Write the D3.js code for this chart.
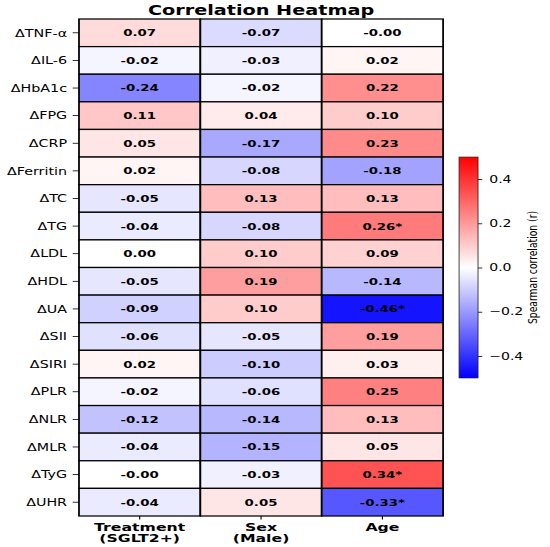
<!DOCTYPE html>
<html>
<head>
<meta charset="utf-8">
<script src="https://cdn.jsdelivr.net/npm/d3@7"></script>
<style>
  html, body { margin: 0; padding: 0; background: #ffffff; }
  svg { display: block; }
  text { font-family: "DejaVu Sans", sans-serif; fill: #000; }
</style>
</head>
<body>
<div id="chart"></div>
<script>
// ---- data ----
const rows = ["ΔTNF-α","ΔIL-6","ΔHbA1c","ΔFPG","ΔCRP","ΔFerritin","ΔTC","ΔTG","ΔLDL","ΔHDL","ΔUA","ΔSII","ΔSIRI","ΔPLR","ΔNLR","ΔMLR","ΔTyG","ΔUHR"];
const columns = ["Treatment\n(SGLT2+)", "Sex\n(Male)", "Age"];
const treatment = [0.07, -0.02, -0.24, 0.11, 0.05, 0.02, -0.05, -0.04, 0.00, -0.05, -0.09, -0.06, 0.02, -0.02, -0.12, -0.04, -0.0, -0.04];
const sex       = [-0.07, -0.03, -0.02, 0.04, -0.17, -0.08, 0.13, -0.08, 0.10, 0.19, 0.10, -0.05, -0.10, -0.06, -0.14, -0.15, -0.03, 0.05];
const age       = [-0.0, 0.02, 0.22, 0.10, 0.23, -0.18, 0.13, 0.26, 0.09, -0.14, -0.46, 0.19, 0.03, 0.25, 0.13, 0.05, 0.34, -0.33];
const ageSignificant = [false,false,false,false,false,false,false,true,false,false,true,false,false,false,false,false,true,true];
const colorbarTicks = [-0.4, -0.2, 0.0, 0.2, 0.4];
const title = "Correlation Heatmap";
const colorbarLabel = "Spearman correlation (r)";

// ---- layout (the picture is horizontally stretched; draw in a narrower viewBox) ----
const W = 550, H = 547, VBW = 392;
const svg = d3.select("#chart").append("svg")
  .attr("width", W).attr("height", H)
  .attr("viewBox", `0 0 ${VBW} ${H}`)
  .attr("preserveAspectRatio", "none");

const grid = {left: 56.3, right: 315.8, top: 19, bottom: 516};
const x = d3.scaleBand().domain(d3.range(columns.length)).range([grid.left, grid.right]);
const y = d3.scaleBand().domain(d3.range(rows.length)).range([grid.top, grid.bottom]);
const color = d3.scaleLinear().domain([-0.5, 0, 0.5]).range(["#0000ff", "#ffffff", "#ff0000"]).clamp(true);

const series = [treatment, sex, age];
const sigs = [rows.map(() => false), rows.map(() => false), ageSignificant];
const cells = [];
series.forEach((vals, c) => vals.forEach((v, r) => cells.push({c, r, v, sig: sigs[c][r]})));

const fmt = d => ((d.v < 0 || Object.is(d.v, -0)) ? "-" : "") + Math.abs(d.v).toFixed(2) + (d.sig ? "*" : "");

const g = svg.append("g");
g.selectAll("rect.cell").data(cells).join("rect")
  .attr("class", "cell")
  .attr("x", d => x(d.c)).attr("y", d => y(d.r))
  .attr("width", x.bandwidth()).attr("height", y.bandwidth())
  .attr("fill", d => color(d.v))
  .attr("stroke", "#000").attr("stroke-width", 1.25);

const cellFont = 9.5;
g.selectAll("text.annot").data(cells).join("text")
  .attr("class", "annot")
  .attr("x", d => x(d.c) + x.bandwidth() / 2)
  .attr("y", d => y(d.r) + y.bandwidth() / 2 + 0.729 * cellFont / 2)
  .attr("text-anchor", "middle")
  .attr("font-weight", "bold")
  .attr("font-size", cellFont)
  .text(fmt);

// y axis labels + ticks
const yFont = 10.2;
const yAx = svg.append("g");
yAx.selectAll("line").data(rows).join("line")
  .attr("x1", grid.left - 4.5).attr("x2", grid.left)
  .attr("y1", (d, i) => y(i) + y.bandwidth() / 2)
  .attr("y2", (d, i) => y(i) + y.bandwidth() / 2)
  .attr("stroke", "#000").attr("stroke-width", 0.8);
yAx.selectAll("text").data(rows).join("text")
  .attr("x", grid.left - 8.5)
  .attr("y", (d, i) => y(i) + y.bandwidth() / 2 + 0.729 * yFont / 2)
  .attr("text-anchor", "end")
  .attr("font-size", yFont)
  .text(d => d);

// x axis labels + ticks
const xFont = 11.2;
const xAx = svg.append("g");
xAx.selectAll("line").data(columns).join("line")
  .attr("x1", (d, i) => x(i) + x.bandwidth() / 2)
  .attr("x2", (d, i) => x(i) + x.bandwidth() / 2)
  .attr("y1", grid.bottom).attr("y2", grid.bottom + 3.5)
  .attr("stroke", "#000").attr("stroke-width", 0.8);
const xt = xAx.selectAll("text").data(columns).join("text")
  .attr("text-anchor", "middle")
  .attr("font-weight", "bold")
  .attr("font-size", xFont);
xt.each(function(d, i) {
  const lines = d.split("\n");
  d3.select(this).selectAll("tspan").data(lines).join("tspan")
    .attr("x", x(i) + x.bandwidth() / 2)
    .attr("y", (l, j) => 531.3 + j * 10.6)
    .text(l => l);
});

// title
svg.append("text")
  .attr("x", (grid.left + grid.right) / 2).attr("y", 15)
  .attr("text-anchor", "middle")
  .attr("font-weight", "bold")
  .attr("font-size", 13.7)
  .text(title);

// colorbar
const cb = {left: 327.2, right: 340.7, top: 157, bottom: 378};
const cy = d3.scaleLinear().domain([-0.5, 0.5]).range([cb.bottom, cb.top]);
const defs = svg.append("defs");
const grad = defs.append("linearGradient").attr("id", "cbgrad")
  .attr("x1", 0).attr("y1", 1).attr("x2", 0).attr("y2", 0);
d3.range(0, 1.0001, 0.05).forEach(t => {
  grad.append("stop").attr("offset", t).attr("stop-color", color(-0.5 + t));
});
svg.append("rect")
  .attr("x", cb.left).attr("y", cy(0.5))
  .attr("width", cb.right - cb.left).attr("height", cy(-0.5) - cy(0.5))
  .attr("fill", "url(#cbgrad)")
  .attr("stroke", "#222").attr("stroke-width", 0.6);

const cbAxis = d3.axisRight(cy).tickValues(colorbarTicks).tickFormat(d3.format(".1f")).tickSize(3).tickPadding(5);
const cbG = svg.append("g").attr("transform", `translate(${cb.right},0)`).call(cbAxis);
cbG.select(".domain").remove();
cbG.selectAll("line").attr("stroke", "#000").attr("stroke-width", 0.8);
cbG.selectAll("text").attr("font-size", 10).attr("font-family", "DejaVu Sans, sans-serif").attr("fill", "#000");

svg.append("text")
  .attr("transform", `translate(382.5, ${(cb.top + cb.bottom) / 2}) rotate(-90)`)
  .attr("text-anchor", "middle")
  .attr("font-size", 9.2)
  .text(colorbarLabel);
</script>
</body>
</html>
